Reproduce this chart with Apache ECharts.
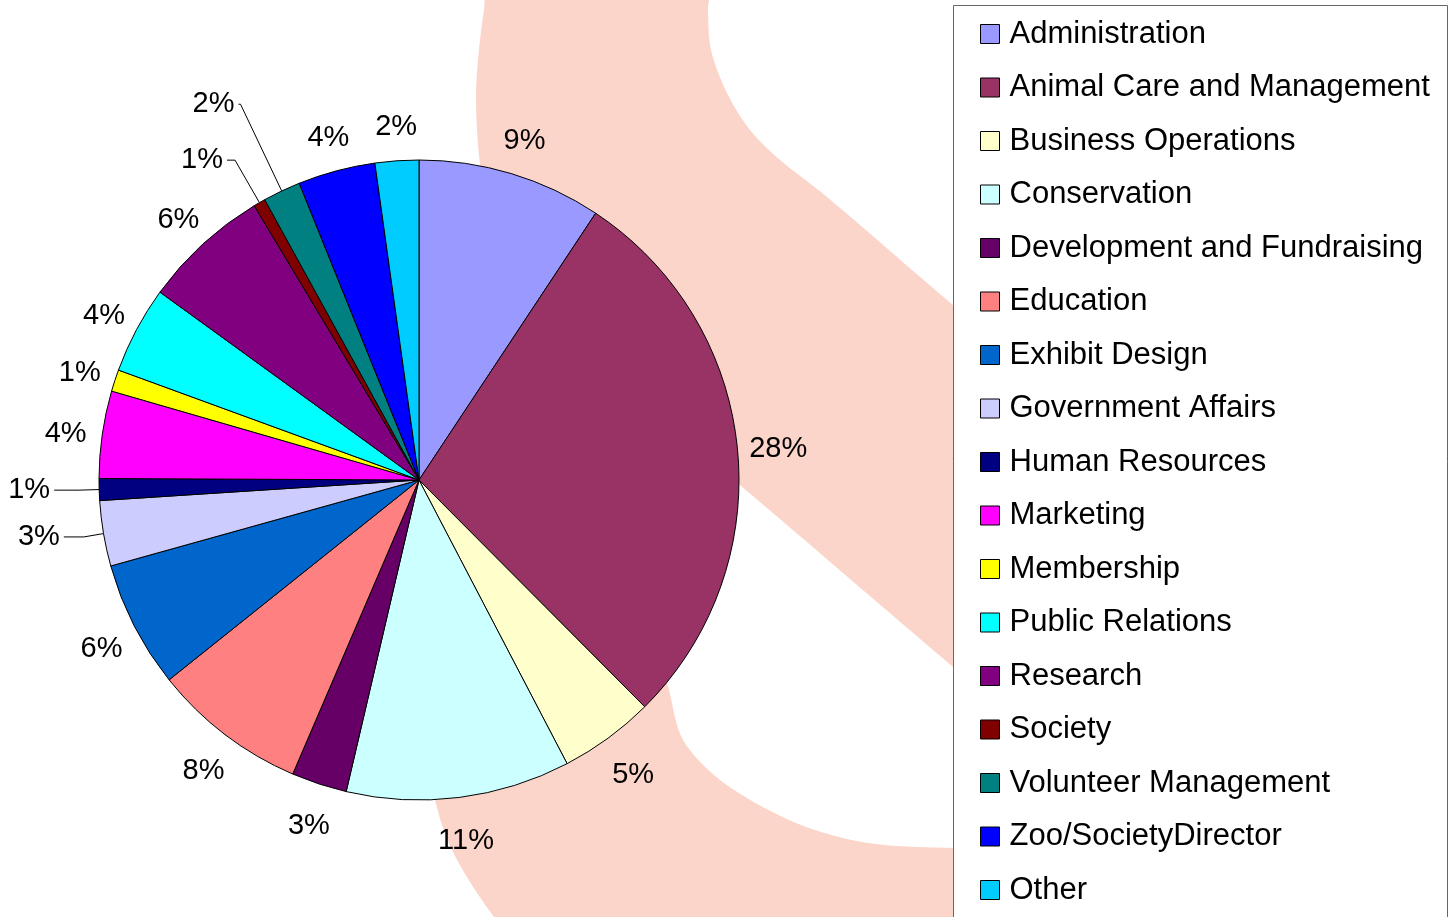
<!DOCTYPE html>
<html lang="en">
<head>
  <meta charset="UTF-8">
  <title>Staff by department</title>
  <style>
    html, body { margin: 0; padding: 0; background: #fff; }
    #main { width: 1452px; height: 917px; }
  </style>
</head>
<body>
<div id="main"></div>
<script src="https://cdn.jsdelivr.net/npm/echarts@6/dist/echarts.min.js"></script>
<script>
  // departments, clockwise from 12 o'clock
  var departments = [
    'Administration', 'Animal Care and Management', 'Business Operations', 'Conservation',
    'Development and Fundraising', 'Education', 'Exhibit Design', 'Government Affairs',
    'Human Resources', 'Marketing', 'Membership', 'Public Relations', 'Research',
    'Society', 'Volunteer Management', 'Zoo/SocietyDirector', 'Other'
  ];
  // share of respondents, %
  var shares = [9.3, 28.2, 4.8, 11.3, 2.8, 7.8, 6.4, 3.3, 1.1, 4.4, 1.1, 4.4, 6.4, 0.6, 1.9, 3.9, 2.2];
  var sliceColors = [
    '#9999ff', '#993366', '#ffffcc', '#ccffff', '#660066', '#ff8080', '#0066cc', '#ccccff',
    '#000080', '#ff00ff', '#ffff00', '#00ffff', '#800080', '#800000', '#008080', '#0000ff', '#00ccff'
  ];

  // small slices that get a leader line: [length, length2]
  var leaders = {
    'Government Affairs': [20, 20],
    'Human Resources': [20, 25],
    'Society': [49, 8],
    'Volunteer Management': [96, 2]
  };

  var font = '"Liberation Sans", Arial, sans-serif';
  var pct = function (p) { return Math.round(p.percent) + '%'; };

  // pale background swash behind the chart
  var swashTop = [
    [492, -30], [484, 10], [478, 60], [476, 100], [479, 155], [490, 230], [530, 310], [600, 380],
    [680, 435], [740, 485], [953, 667], [1150, 835],
    [1150, 470], [953, 305], [827, 197], [780, 160], [750, 130], [727, 93], [711, 50], [708, 10], [708, -30]
  ];
  var swashLow = [
    [600, 560], [650, 640], [667, 683], [683, 740], [724, 783], [796, 823], [868, 843],
    [958, 848], [1100, 850], [1100, 1000], [560, 1000], [494, 917], [461, 867], [442, 825],
    [428, 760], [430, 650], [500, 560]
  ];

  var mainData = departments.map(function (d, i) {
    var item = { name: d, value: shares[i], itemStyle: { color: sliceColors[i] } };
    if (leaders[d]) {
      item.label = { show: true };
      item.labelLine = { show: true, length: leaders[d][0], length2: leaders[d][1] };
    }
    return item;
  });
  var ringData = departments.map(function (d, i) {
    return { name: d, value: shares[i], label: { show: !leaders[d] } };
  });

  var chart = echarts.init(document.getElementById('main'));
  chart.setOption({
    animation: false,
    backgroundColor: '#fff',
    graphic: [
      { type: 'polygon', z: 0, silent: true, shape: { points: swashTop, smooth: 0.3 }, style: { fill: '#fcd5ca' } },
      { type: 'polygon', z: 0, silent: true, shape: { points: swashLow, smooth: 0.3 }, style: { fill: '#fcd5ca' } },
      // legend frame, runs off the bottom edge
      { type: 'rect', z: 1, silent: true, shape: { x: 953.5, y: 5.5, width: 494, height: 960 }, style: { fill: '#fff', stroke: '#666', lineWidth: 1 } }
    ],
    legend: {
      orient: 'vertical',
      left: 953,
      top: 5,
      padding: [13.5, 0, 0, 27],
      itemGap: 22.5,
      itemWidth: 19,
      itemHeight: 19,
      icon: 'rect',
      selectedMode: false,
      itemStyle: { borderColor: '#000', borderWidth: 1 },
      textStyle: { fontSize: 31, lineHeight: 31, color: '#000', fontFamily: font, padding: [0, 0, 0, 5] },
      data: departments
    },
    series: [
      {
        type: 'pie',
        name: 'main',
        center: [419, 480],
        radius: 320,
        startAngle: 90,
        clockwise: true,
        avoidLabelOverlap: false,
        itemStyle: { borderColor: '#000', borderWidth: 1 },
        label: { show: false, position: 'outside', fontSize: 29, color: '#000', fontFamily: font, formatter: pct, distanceToLabelLine: 4 },
        labelLine: { show: false, lineStyle: { color: '#000', width: 1 } },
        emphasis: { disabled: true },
        data: mainData
      },
      {
        // transparent ring that only carries the percentage labels
        type: 'pie',
        name: 'labels',
        center: [421, 485],
        radius: [336, 376],
        startAngle: 90,
        clockwise: true,
        silent: true,
        itemStyle: { color: 'transparent', borderWidth: 0 },
        label: { show: true, position: 'inside', fontSize: 29, color: '#000', fontFamily: font, formatter: pct },
        labelLine: { show: false },
        emphasis: { disabled: true },
        data: ringData
      }
    ]
  });
</script>
</body>
</html>
